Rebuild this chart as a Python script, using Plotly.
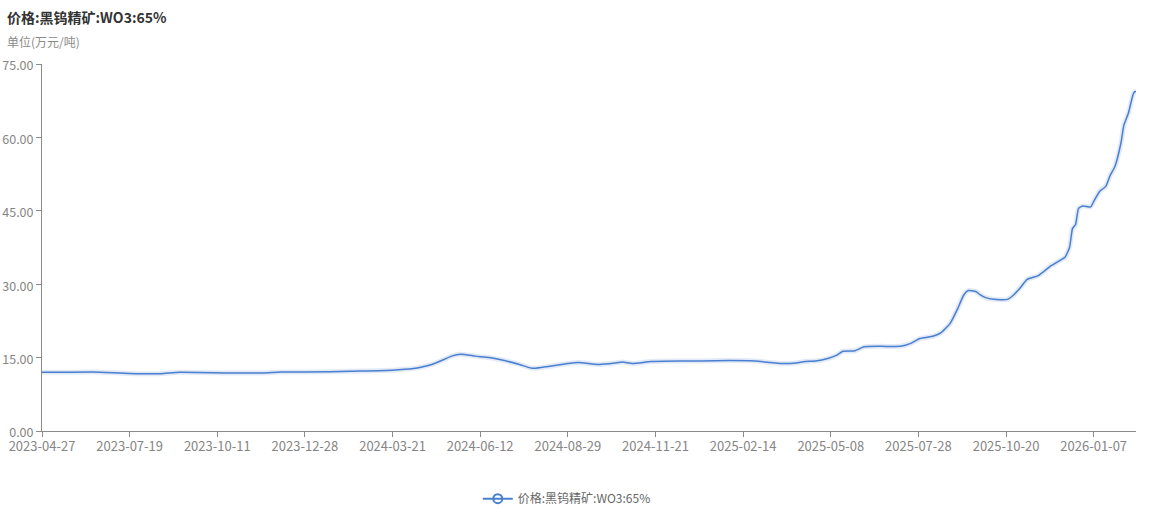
import plotly.graph_objects as go

# ---- data ----
SERIES_NAME = "价格:黑钨精矿:WO3:65%"
TITLE = "价格:黑钨精矿:WO3:65%"
UNIT = "单位(万元/吨)"

# x-axis tick labels (category axis, one label every 58 trading days)
TICK_LABELS = ["2023-04-27", "2023-07-19", "2023-10-11", "2023-12-28", "2024-03-21",
               "2024-06-12", "2024-08-29", "2024-11-21", "2025-02-14", "2025-05-08",
               "2025-07-28", "2025-10-20", "2026-01-07"]
LABEL_STEP = 58
N_POINTS = 725

# trading-day index of each sampled point and its price (万元/吨)
DAY_INDEX = [0, 12, 34, 58, 78, 91, 124, 146, 158, 191, 204, 232, 240, 250, 258, 266,
             271, 277, 287, 296, 306, 316, 323, 326, 335, 346, 355, 364, 369, 379, 384,
             391, 403, 423, 436, 455, 472, 482, 489, 499, 505, 512, 520, 526, 530, 538,
             544, 555, 568, 575, 581, 590, 595, 601, 606, 610, 613, 618, 621, 624, 630,
             639, 643, 648, 652, 659, 663, 667, 674, 677, 680, 682, 684, 686, 689, 694,
             696, 700, 704, 707, 710, 714, 716, 719, 722, 723, 724]
PRICE = [12.0, 12.0, 12.05, 11.75, 11.7, 12.0, 11.85, 11.85, 12.05, 12.1, 12.2, 12.4,
         12.6, 13.0, 13.6, 14.6, 15.3, 15.7, 15.3, 15.0, 14.4, 13.6, 12.9, 12.8, 13.2,
         13.7, 14.0, 13.7, 13.6, 13.9, 14.1, 13.8, 14.2, 14.3, 14.3, 14.4, 14.3, 14.0,
         13.8, 13.9, 14.2, 14.3, 14.8, 15.5, 16.3, 16.4, 17.2, 17.3, 17.3, 17.9, 18.9,
         19.4, 20.1, 22.0, 25.0, 27.8, 28.7, 28.5, 27.8, 27.3, 26.9, 26.9, 27.8, 29.5,
         31.0, 31.7, 32.6, 33.6, 34.9, 35.5, 37.5, 41.4, 42.2, 45.5, 46.0, 45.8, 46.9,
         49.0, 50.0, 52.3, 54.0, 58.8, 62.5, 65.0, 68.7, 69.3, 69.4]

Y_TICKS = [0, 15, 30, 45, 60, 75]

# ---- styling ----
LINE_COLOR = "#4a7fcf"
AXIS_COLOR = "#8a8a8a"
LABEL_COLOR = "#858585"
FONT = "Noto Sans CJK SC"

fig = go.Figure()

# soft halo under the line
fig.add_trace(go.Scatter(
    x=DAY_INDEX, y=PRICE, mode="lines",
    line=dict(color="rgba(74,127,207,0.16)", width=5, shape="spline", smoothing=0.5),
    hoverinfo="skip", showlegend=False))

fig.add_trace(go.Scatter(
    x=DAY_INDEX, y=PRICE, mode="lines", name=SERIES_NAME,
    line=dict(color=LINE_COLOR, width=1.5, shape="spline", smoothing=0.5),
    showlegend=False))

# legend entry (line with hollow circle, like the reference)
fig.add_trace(go.Scatter(
    x=[None], y=[None], mode="lines+markers", name=SERIES_NAME,
    line=dict(color=LINE_COLOR, width=2),
    marker=dict(symbol="circle-open", size=9, color=LINE_COLOR, line=dict(width=2))))

tickvals = [i * LABEL_STEP for i in range(len(TICK_LABELS))]

fig.update_layout(
    width=1152, height=512,
    margin=dict(l=42, r=16, t=64, b=81, autoexpand=False),
    paper_bgcolor="white", plot_bgcolor="white",
    font=dict(family=FONT, size=12, color=LABEL_COLOR),
    showlegend=True,
    legend=dict(orientation="h", xref="container", yref="container",
                x=0.492, xanchor="center", y=0.026, yanchor="middle",
                font=dict(size=12, color="#666666"), itemwidth=30),
    xaxis=dict(range=[0, N_POINTS - 1], tickvals=tickvals, ticktext=TICK_LABELS,
               automargin=False, ticklabelstandoff=-2,
               showgrid=False, zeroline=False, showline=True, linecolor=AXIS_COLOR,
               linewidth=1, ticks="outside", ticklen=5, tickcolor=AXIS_COLOR,
               tickfont=dict(size=13, color=LABEL_COLOR)),
    yaxis=dict(range=[0, 75], tickvals=Y_TICKS, ticktext=[f"{v:.2f}" for v in Y_TICKS],
               automargin=False, ticklabelshift=2,
               showgrid=False, zeroline=False, showline=True, linecolor=AXIS_COLOR,
               linewidth=1, ticks="outside", ticklen=5, tickcolor=AXIS_COLOR,
               tickfont=dict(size=12.5, color=LABEL_COLOR)),
    annotations=[
        dict(text=f"<b>{TITLE}</b>", xref="paper", yref="paper", x=-0.034, y=1.128,
             xanchor="left", yanchor="middle", showarrow=False,
             font=dict(size=14, color="#333333", family=FONT)),
        dict(text=UNIT, xref="paper", yref="paper", x=-0.034, y=1.06,
             xanchor="left", yanchor="middle", showarrow=False,
             font=dict(size=12, color="#8a8a8a", family=FONT)),
    ],
)

fig.write_html("out.html", config={"displayModeBar": False},
               post_script="document.body.style.margin='0';document.body.style.padding='0';")
